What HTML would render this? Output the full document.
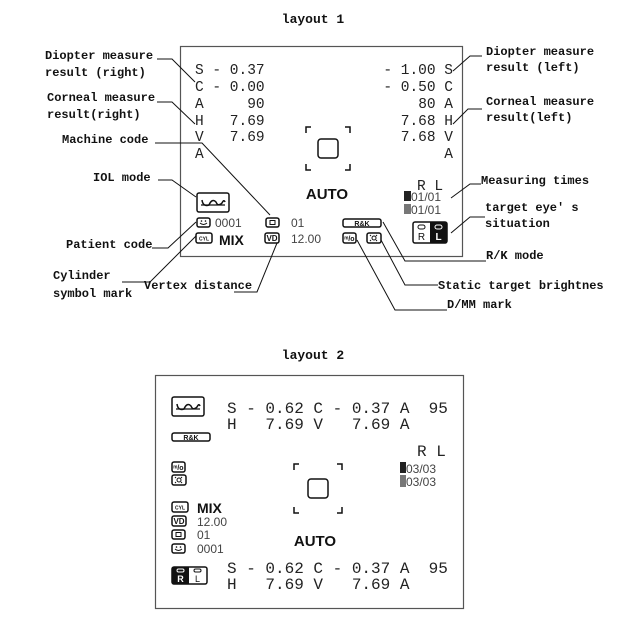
<!DOCTYPE html>
<html><head><meta charset="utf-8"><style>
html,body{margin:0;padding:0;background:#fff;}
svg{display:block}
.a{font-family:"Liberation Mono",monospace;font-size:12px;font-weight:bold;fill:#111}
.v{font-family:"Liberation Mono",monospace;font-size:14.5px;fill:#222}
.v2{font-family:"Liberation Mono",monospace;font-size:16px;fill:#222}
.s{font-family:"Liberation Sans",sans-serif;font-size:12px;fill:#444}
.b{font-family:"Liberation Sans",sans-serif;font-weight:bold;fill:#111}
.ic{fill:none;stroke:#111;stroke-width:1.5}
.ln{fill:none;stroke:#111;stroke-width:1}
.t{font-family:"Liberation Sans",sans-serif;font-size:5px;font-weight:bold;fill:#111;text-anchor:middle}
</style></head><body>
<svg width="618" height="631" viewBox="0 0 618 631" xmlns="http://www.w3.org/2000/svg">
<defs>
<g id="iol"><rect x="0" y="0" width="32" height="19" rx="2" class="ic"/><path d="M5 7 Q6 14 12 12 Q15 5 19 9 Q21 14 25 10 Q27 6 28 9" class="ic"/><line x1="4" y1="12" x2="28" y2="12" stroke="#111" stroke-width="1.2"/></g>
<g id="pat"><rect x="0" y="0" width="13" height="9" rx="2" class="ic" stroke-width="1.2"/><path d="M3 5 Q6.5 8 10 5" class="ln"/><circle cx="4.5" cy="3" r=".8"/><circle cx="8.5" cy="3" r=".8"/></g>
<g id="mac"><rect x="0" y="0" width="13" height="9" rx="2" class="ic" stroke-width="1.2"/><rect x="4" y="2.5" width="5" height="4" class="ln"/></g>
<g id="cyl"><rect x="0" y="0" width="16" height="10" rx="2" class="ic" stroke-width="1.2"/><text x="8" y="7.5" class="t" font-size="6">CYL</text></g>
<g id="vd"><rect x="0" y="0" width="14" height="10" rx="2" class="ic" stroke-width="1.2"/><text x="7" y="8" class="t" style="font-size:8px">VD</text></g>
<g id="rk"><rect x="0" y="0" width="38" height="8" rx="2" class="ic" stroke-width="1.2"/><text x="19" y="7" class="t" style="font-size:7px">R&amp;K</text></g>
<g id="dmm"><rect x="0" y="0" width="13" height="10" rx="2" class="ic" stroke-width="1.2"/><text x="6.5" y="8" class="t" style="font-size:7px">ᵐ/o</text></g>
<g id="bri"><rect x="0" y="0" width="14" height="10" rx="2" class="ic" stroke-width="1.2"/><circle cx="7" cy="5" r="2" class="ln"/><path d="M3 2l1 1M10 2l-1 1M3 8l1-1M10 8l-1-1" class="ln"/></g>
<g id="eyeL"><rect x="0" y="0" width="34" height="21" rx="2" fill="#fff" stroke="#111" stroke-width="1.5"/><rect x="17" y="0" width="17" height="21" fill="#111"/><rect x="5" y="3" width="7" height="4" rx="2" class="ln"/><rect x="22" y="3" width="7" height="4" rx="2" fill="none" stroke="#fff"/><text x="8.5" y="18" class="t" style="font-size:10px;font-weight:normal">R</text><text x="25.5" y="18" class="t" style="font-size:10px;fill:#fff">L</text></g>
<g id="eyeR"><rect x="0" y="0" width="35" height="17" rx="2" fill="#fff" stroke="#111" stroke-width="1.5"/><rect x="0" y="0" width="17" height="17" fill="#111"/><rect x="5" y="2" width="7" height="3" rx="1.5" fill="none" stroke="#fff"/><rect x="22" y="2" width="7" height="3" rx="1.5" class="ln"/><text x="8.5" y="15" class="t" style="font-size:9px;fill:#fff">R</text><text x="25.5" y="15" class="t" style="font-size:9px;font-weight:normal">L</text></g>
</defs>

<text x="313" y="23" class="a" text-anchor="middle" style="font-size:13px">layout 1</text>
<text x="313" y="359" class="a" text-anchor="middle" style="font-size:13px">layout 2</text>

<!-- Box 1 -->
<rect x="180.5" y="46.5" width="282" height="210" fill="none" stroke="#555" stroke-width="1.2"/>
<g class="v">
<text x="195" y="74">S - 0.37</text>
<text x="195" y="91">C - 0.00</text>
<text x="195" y="108" xml:space="preserve">A     90</text>
<text x="195" y="125" xml:space="preserve">H   7.69</text>
<text x="195" y="141" xml:space="preserve">V   7.69</text>
<text x="195" y="158">A</text>
<text x="453" y="74" text-anchor="end">- 1.00 S</text>
<text x="453" y="91" text-anchor="end">- 0.50 C</text>
<text x="453" y="108" text-anchor="end">80 A</text>
<text x="453" y="125" text-anchor="end">7.68 H</text>
<text x="453" y="141" text-anchor="end">7.68 V</text>
<text x="453" y="158" text-anchor="end">A</text>
<text x="417" y="190">R L</text>
</g>
<path d="M306 133v-6h5M345 127h5v6M306 164v6h5M345 170h5v-6" class="ic"/>
<rect x="318" y="139" width="20" height="19" rx="3" class="ic"/>
<text x="327" y="199" class="b" font-size="15" text-anchor="middle">AUTO</text>
<rect x="404" y="191" width="7" height="10" fill="#222"/>
<rect x="404" y="204" width="7" height="10" fill="#777"/>
<text x="411" y="201" class="s">01/01</text>
<text x="411" y="214" class="s">01/01</text>
<use href="#iol" x="197" y="193"/>
<use href="#pat" x="197" y="218"/><text x="215" y="227" class="s">0001</text>
<use href="#mac" x="266" y="218"/><text x="291" y="227" class="s">01</text>
<use href="#cyl" x="196" y="233"/><text x="219" y="245" class="b" font-size="14">MIX</text>
<use href="#vd" x="265" y="233"/><text x="291" y="243" class="s">12.00</text>
<use href="#rk" x="343" y="219"/>
<use href="#dmm" x="343" y="233"/>
<use href="#bri" x="367" y="233"/>
<use href="#eyeL" x="413" y="222"/>

<!-- annotations layout1 -->
<g class="a">
<text x="45" y="59">Diopter measure</text>
<text x="45" y="76">result (right)</text>
<text x="47" y="101">Corneal measure</text>
<text x="47" y="118">result(right)</text>
<text x="62" y="143">Machine code</text>
<text x="93" y="181">IOL mode</text>
<text x="66" y="248">Patient code</text>
<text x="53" y="279">Cylinder</text>
<text x="53" y="297">symbol mark</text>
<text x="144" y="289">Vertex distance</text>
<text x="486" y="55">Diopter measure</text>
<text x="486" y="71">result (left)</text>
<text x="486" y="105">Corneal measure</text>
<text x="486" y="121">result(left)</text>
<text x="481" y="184">Measuring times</text>
<text x="485" y="211">target eye' s</text>
<text x="485" y="227">situation</text>
<text x="486" y="259">R/K mode</text>
<text x="438" y="289">Static target brightnes</text>
<text x="447" y="308">D/MM mark</text>
</g>
<g class="ln">
<path d="M157 59H172L195 82"/>
<path d="M157 102H172L195 124"/>
<path d="M155 143H202L270 215"/>
<path d="M158 180H172L196 197"/>
<path d="M152 248H168L196 222"/>
<path d="M122 282H150L196 236"/>
<path d="M234 292H257L277 243"/>
<path d="M482 56H470L453 71"/>
<path d="M482 109H468L453 124"/>
<path d="M481 184H470L451 198"/>
<path d="M485 217H470L451 233"/>
<path d="M486 261H405L383 222"/>
<path d="M438 285H405L381 240"/>
<path d="M447 310H395L357 240"/>
</g>

<!-- Box 2 -->
<rect x="155.5" y="375.5" width="308" height="233" fill="none" stroke="#555" stroke-width="1.2"/>
<use href="#iol" x="172" y="397"/>
<g class="v2">
<text x="227" y="413" xml:space="preserve">S - 0.62 C - 0.37 A  95</text>
<text x="227" y="429" xml:space="preserve">H   7.69 V   7.69 A</text>
<text x="227" y="573" xml:space="preserve">S - 0.62 C - 0.37 A  95</text>
<text x="227" y="589" xml:space="preserve">H   7.69 V   7.69 A</text>
<text x="417" y="456">R L</text>
</g>
<use href="#rk" x="172" y="433"/>
<use href="#dmm" x="172" y="462"/>
<use href="#bri" x="172" y="475"/>
<rect x="400" y="462" width="6" height="11" fill="#222"/>
<rect x="400" y="475" width="6" height="12" fill="#777"/>
<text x="406" y="473" class="s" font-size="13">03/03</text>
<text x="406" y="486" class="s" font-size="13">03/03</text>
<path d="M294 470v-6h5M337 464h5v6M294 507v6h5M337 513h5v-6" class="ic"/>
<rect x="308" y="479" width="20" height="19" rx="3" class="ic"/>
<use href="#cyl" x="172" y="502"/><text x="197" y="513" class="b" font-size="14">MIX</text>
<use href="#vd" x="172" y="516"/><text x="197" y="526" class="s" font-size="13">12.00</text>
<use href="#mac" x="172" y="530"/><text x="197" y="539" class="s" font-size="13">01</text>
<use href="#pat" x="172" y="544"/><text x="197" y="553" class="s" font-size="13">0001</text>
<text x="315" y="546" class="b" font-size="15" text-anchor="middle">AUTO</text>
<use href="#eyeR" x="172" y="567"/>
</svg>
</body></html>
